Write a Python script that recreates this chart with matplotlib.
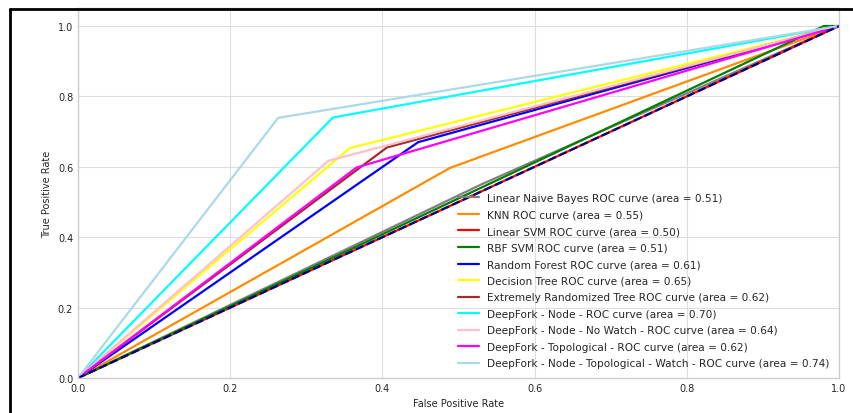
import numpy as np
import matplotlib
matplotlib.use('Agg')
import matplotlib.pyplot as plt
from matplotlib.lines import Line2D

# classifier names, knee points (fpr, tpr) and reported AUCs
names = ['Linear Naive Bayes ROC curve',
         'KNN ROC curve',
         'Linear SVM ROC curve',
         'RBF SVM ROC curve',
         'Random Forest ROC curve',
         'Decision Tree ROC curve',
         'Extremely Randomized Tree ROC curve',
         'DeepFork - Node - ROC curve',
         'DeepFork - Node - No Watch - ROC curve',
         'DeepFork - Topological - ROC curve',
         'DeepFork - Node - Topological - Watch - ROC curve']
knee_fpr = [0.53, 0.489, 0.50, 0.98, 0.447, 0.357, 0.406, 0.335, 0.329, 0.366, 0.263]
knee_tpr = [0.55, 0.597, 0.50, 1.00, 0.670, 0.653, 0.655, 0.740, 0.617, 0.598, 0.739]
areas = [0.51, 0.55, 0.50, 0.51, 0.61, 0.65, 0.62, 0.70, 0.64, 0.62, 0.74]
colors = ['gray', 'darkorange', 'red', 'green', 'blue', 'yellow', 'brown',
          'cyan', 'pink', 'magenta', 'lightblue']

plt.style.use('seaborn-v0_8-whitegrid')
plt.rcParams['font.family'] = 'DejaVu Sans'
plt.rcParams['font.size'] = 7
plt.rcParams['grid.color'] = '#dddddd'

fig = plt.figure(figsize=(8.54, 4.14), dpi=100)
ax = fig.add_axes([78/854, 1-379/414, 761/854, 369.6/414])

for i in range(len(names)):
    fpr = [0.0, knee_fpr[i], 1.0]
    tpr = [0.0, knee_tpr[i], 1.0]
    ax.plot(fpr, tpr, color=colors[i], lw=1.6,
            label='%s (area = %0.2f)' % (names[i], areas[i]))

ax.plot([0, 1], [0, 1], color='navy', lw=1.6, linestyle='--')
ax.set_xlim([0.0, 1.0])
ax.set_ylim([0.0, 1.05])
ax.set_xticks([0.0, 0.2, 0.4, 0.6, 0.8, 1.0])
ax.set_yticks([0.0, 0.2, 0.4, 0.6, 0.8, 1.0])
ax.set_xlabel('False Positive Rate')
ax.set_ylabel('True Positive Rate')
ax.legend(loc='lower right', fontsize=7.6, labelspacing=0.62)

# black frame of the original screenshot
fig.add_artist(Line2D([10/854, 1], [1-10/414, 1-10/414], color='black', lw=2))
fig.add_artist(Line2D([10/854, 10/854], [0, 1-10/414], color='black', lw=2))

fig.savefig('out.png', dpi=100)
